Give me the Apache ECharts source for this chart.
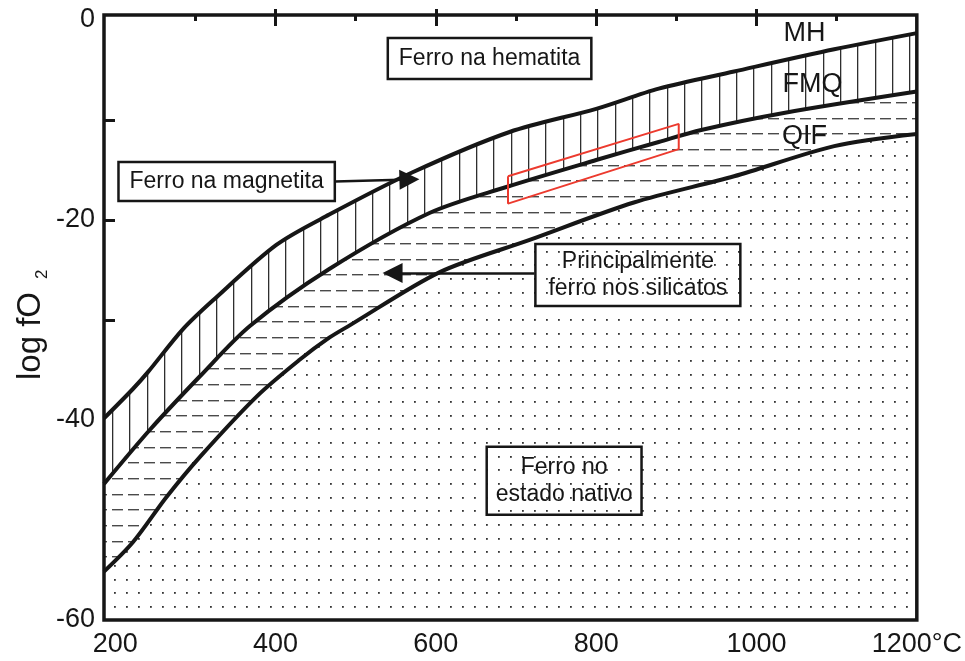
<!DOCTYPE html>
<html><head><meta charset="utf-8">
<script src="https://cdn.jsdelivr.net/npm/echarts@6/dist/echarts.min.js"></script>
<style>html,body{margin:0;padding:0;background:#fff}#c{width:965px;height:661px}</style>
</head><body><div id="c"></div>
<script>
// ---- data (°C, log fO2) ----
const xTickLabels = [200, 400, 600, 800, 1000, 1200];
const xMajorTicks = [400, 600, 800, 1000];
const xMinorTicks = [300, 500, 700, 900, 1100];
const yTickLabels = [0, -20, -40, -60];
const yTicks = [-10, -20, -30, -40, -50];

const mhCurve = [[186,-39.83],[222,-36.9],[241,-35.19],[284,-30.96],[322,-28.03],[401,-22.49],[467,-19.46],[571,-15.23],[692,-11.20],[800,-8.88],[878,-6.86],[972,-5.15],[1097,-2.93],[1200,-1.31]];
const fmqCurve = [[186,-46.39],[243,-41.0],[306,-35.6],[368,-30.6],[467,-24.9],[592,-19.3],[688,-16.7],[800,-14.0],[878,-12.2],[931,-11.0],[1034,-9.3],[1200,-7.16]];
const qifCurve = [[186,-55.16],[222,-52.23],[264,-47.70],[306,-43.66],[377,-37.61],[430,-33.98],[467,-31.77],[492,-30.56],[605,-25.21],[717,-21.99],[847,-18.25],[972,-15.63],[1097,-12.61],[1200,-11.40]];
const redBox = [[690,-15.63],[903,-10.39],[903,-12.91],[690,-18.36],[690,-15.63]];

const curveNames = ['MH', 'FMQ', 'QIF'];
const regionTexts = ['Ferro na hematita', 'Ferro na magnetita', 'Principalmente\nferro nos silicatos', 'Ferro no\nestado nativo'];

// ---- layout of annotations (data coordinates) ----
const curveLabelPos = [[1060,-1.31],[1070,-6.46],[1060,-11.70]];
const regionPos = [[667,-3.84],[339,-16.14],[852,-25.51],[760,-46.08]];
const regionPad = [[7,11],[6,11],[4,13],[7,9]];
const arrows = [[[474,-16.14],[567,-15.94]], [[723,-25.31],[546,-25.31]]];

// ---- fill patterns ----
function mk(w, h, draw) {
  const c = document.createElement('canvas'); c.width = w; c.height = h;
  const g = c.getContext('2d'); g.fillStyle = '#fff'; g.fillRect(0, 0, w, h); draw(g); return c;
}
const vHatch = mk(52, 8, g => { g.fillStyle = '#2e2e2e'; [8, 25, 43].forEach(x => g.fillRect(x, 0, 1.3, 8)); });
const hDash = mk(16, 47, g => { g.fillStyle = '#4a4a4a'; [8, 24, 39].forEach(y => g.fillRect(0, y, 11, 1.4)); });
const dots = mk(12, 41, g => { g.fillStyle = '#333'; [5, 18, 32].forEach(y => g.fillRect(6, y, 1.8, 1.8)); });

const FONT = '"Liberation Sans", Arial, sans-serif';
const INK = '#161616';

function fillSeries(data, pattern) {
  return { type: 'line', data, smooth: 0.3, symbol: 'none',
    lineStyle: { color: INK, width: 4 },
    areaStyle: { origin: 'start', color: { image: pattern, repeat: 'repeat' }, opacity: 1 },
    z: 2, silent: true };
}

const chart = echarts.init(document.getElementById('c'), null, { renderer: 'canvas' });
const xBase = { type: 'value', min: 186, max: 1200, splitLine: { show: false }, axisLine: { show: false } };
const yBase = { type: 'value', min: -60, max: 0.5, splitLine: { show: false }, axisLine: { show: false } };
const tickStyle = { color: INK, width: 3 };
const clear = 'rgba(0,0,0,0)';

chart.setOption({
  animation: false,
  backgroundColor: '#fff',
  grid: { left: 104, right: 47, top: 15, bottom: 41, show: true, borderColor: INK, borderWidth: 3.5, backgroundColor: 'transparent', z: 10 },
  xAxis: [
    Object.assign({}, xBase, { position: 'bottom',
      axisTick: { show: true, inside: true, length: 11, lineStyle: tickStyle, customValues: xMajorTicks },
      axisLabel: { show: true, customValues: xTickLabels, margin: 11, fontSize: 27, fontFamily: FONT, color: INK,
        formatter: v => v === 1200 ? '1200°C' : String(v) } }),
    Object.assign({}, xBase, { position: 'bottom', axisLabel: { show: false },
      axisTick: { show: true, inside: true, length: 5, lineStyle: tickStyle, customValues: xMinorTicks } }),
    Object.assign({}, xBase, { position: 'top', axisLabel: { show: false },
      axisTick: { show: true, inside: true, length: 11, lineStyle: tickStyle, customValues: xMajorTicks } }),
    Object.assign({}, xBase, { position: 'top', axisLabel: { show: false },
      axisTick: { show: true, inside: true, length: 6, lineStyle: tickStyle, customValues: xMinorTicks } })
  ],
  yAxis: [
    Object.assign({}, yBase, { position: 'left',
      axisTick: { show: true, inside: true, length: 11, lineStyle: tickStyle, customValues: yTicks },
      axisLabel: { show: true, customValues: yTickLabels, margin: 9, fontSize: 27, fontFamily: FONT, color: INK } }),
    Object.assign({}, yBase, { position: 'right', axisLabel: { show: false },
      axisTick: { show: true, inside: true, length: 11, lineStyle: tickStyle, customValues: yTicks } })
  ],
  graphic: [{
    type: 'group', x: 31, y: 380, rotation: Math.PI / 2,
    children: [
      { type: 'text', x: 0, y: 0, style: { text: 'log fO', fontSize: 33, fontFamily: FONT, fill: INK, align: 'left', verticalAlign: 'middle' } },
      { type: 'text', x: 101, y: 11, style: { text: '2', fontSize: 17, fontFamily: FONT, fill: INK, align: 'left', verticalAlign: 'middle' } }
    ]
  }],
  series: [
    fillSeries(mhCurve, vHatch),
    fillSeries(fmqCurve, hDash),
    fillSeries(qifCurve, dots),
    { type: 'line', data: redBox, symbol: 'none', lineStyle: { color: '#ec3a2e', width: 2 }, z: 6, silent: true,
      markLine: { silent: true, symbol: ['none', 'triangle'], symbolSize: 20, label: { show: false },
        lineStyle: { color: INK, width: 2.5, type: 'solid' },
        data: arrows.map(a => [{ coord: a[0] }, { coord: a[1] }]) } },
    { type: 'scatter', symbolSize: 1, itemStyle: { color: clear, opacity: 1 }, z: 7, silent: true,
      data: curveNames.map((n, i) => ({ value: curveLabelPos[i],
        label: { show: true, position: 'inside', formatter: n, fontSize: 27, fontFamily: FONT, color: INK } })) },
    { type: 'scatter', symbolSize: 1, itemStyle: { color: clear, opacity: 1 }, z: 7, silent: true,
      data: regionTexts.map((t, i) => ({ value: regionPos[i],
        label: { show: true, position: 'inside', formatter: t, fontSize: 23, lineHeight: 27, fontFamily: FONT, color: INK,
          align: 'center', borderColor: INK, borderWidth: 2.5, padding: regionPad[i] } })) }
  ]
});
</script></body></html>
